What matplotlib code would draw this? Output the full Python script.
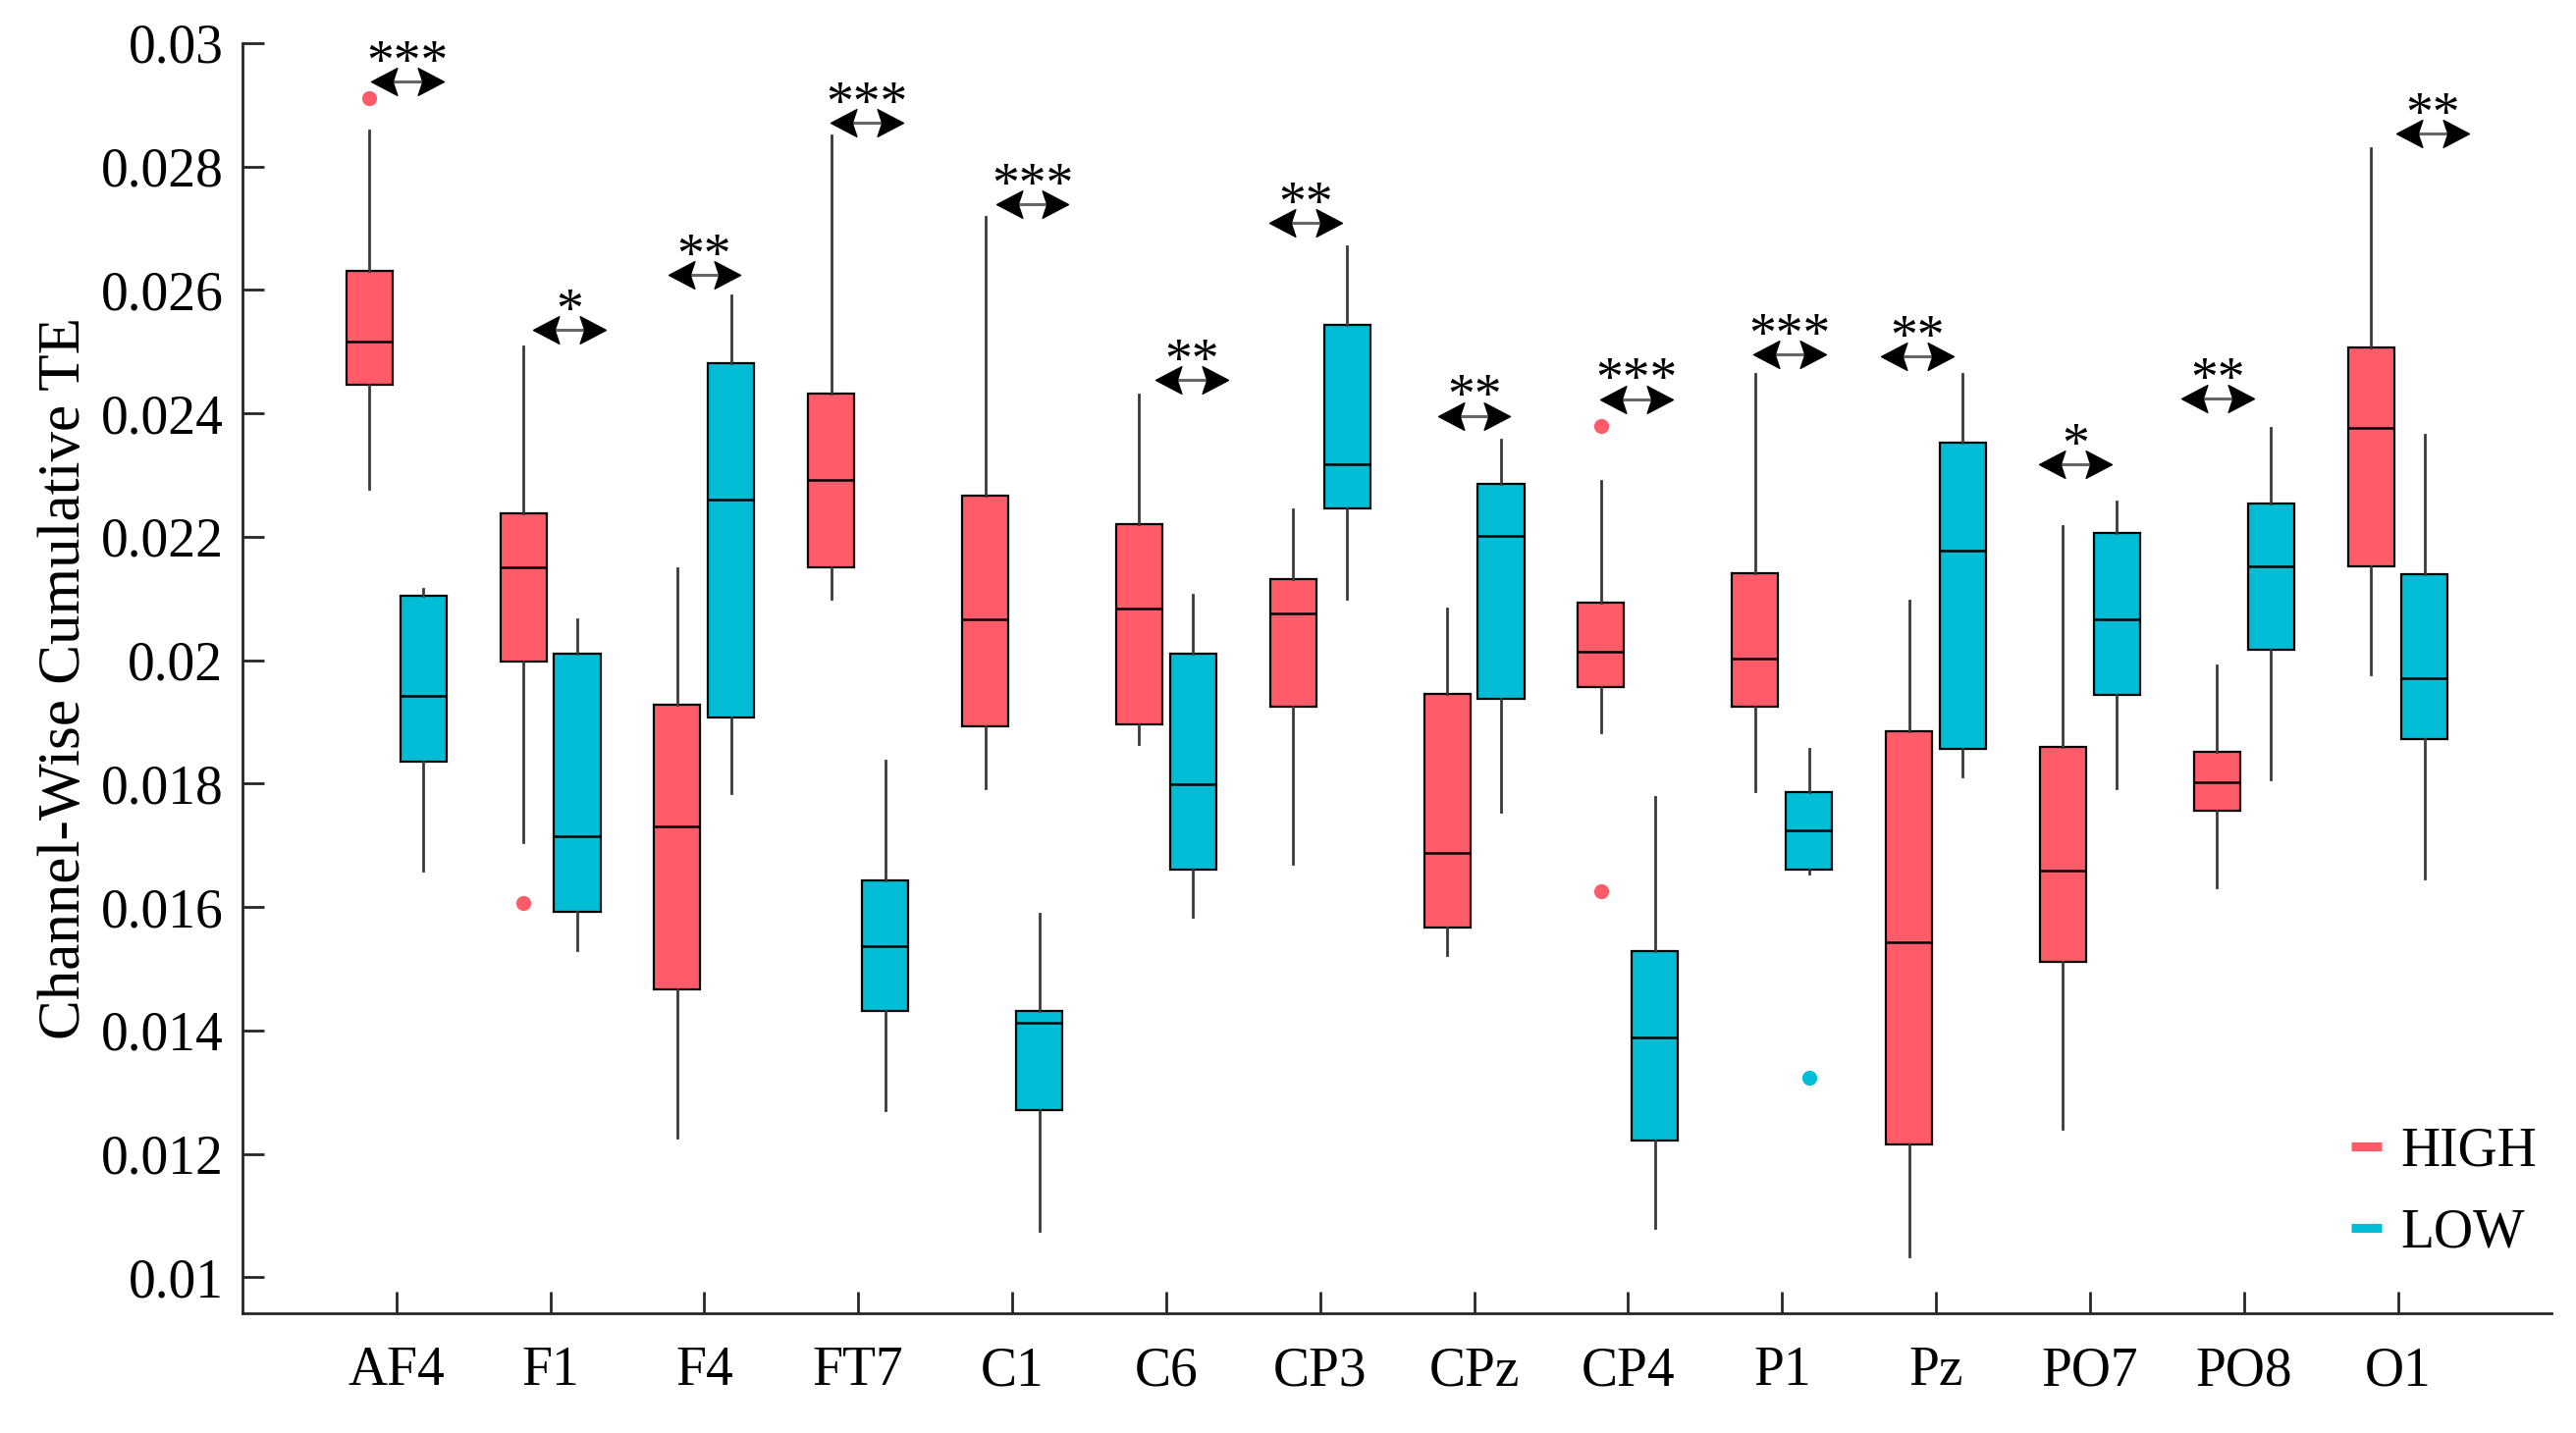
import matplotlib
matplotlib.use("Agg")
import matplotlib.pyplot as plt
from matplotlib import font_manager
from matplotlib.lines import Line2D
from matplotlib.path import Path

names = {f.name for f in font_manager.fontManager.ttflist}
serif_pick = None
for cand in ['Liberation Serif', 'Times New Roman', 'Nimbus Roman', 'DejaVu Serif']:
    if cand in names:
        serif_pick = cand
        break
plt.rcParams['font.family'] = [serif_pick or 'serif', 'DejaVu Serif']

channels = ['AF4', 'F1', 'F4', 'FT7', 'C1', 'C6', 'CP3', 'CPz', 'CP4', 'P1', 'Pz', 'PO7', 'PO8', 'O1']

high_lo  = [0.02278, 0.01706, 0.01227, 0.02100, 0.01793, 0.01865, 0.01671, 0.01523, 0.01884, 0.01788, 0.01034, 0.01241, 0.01632, 0.01977]
high_q1  = [0.02446, 0.01998, 0.01466, 0.02150, 0.01893, 0.01896, 0.01925, 0.01567, 0.01956, 0.01925, 0.01215, 0.01511, 0.01756, 0.02152]
high_med = [0.02517, 0.02150, 0.01730, 0.02292, 0.02066, 0.02084, 0.02075, 0.01688, 0.02013, 0.02002, 0.01543, 0.01659, 0.01802, 0.02377]
high_q3  = [0.02630, 0.02238, 0.01928, 0.02432, 0.02267, 0.02221, 0.02132, 0.01946, 0.02093, 0.02141, 0.01885, 0.01860, 0.01851, 0.02506]
high_hi  = [0.02858, 0.02509, 0.02149, 0.02850, 0.02719, 0.02430, 0.02244, 0.02084, 0.02291, 0.02463, 0.02097, 0.02218, 0.01992, 0.02830]
high_out = [[0.02910], [0.01607], [], [], [], [], [], [], [0.02380, 0.01626], [], [], [], [], []]

low_lo  = [0.01659, 0.01530, 0.01785, 0.01271, 0.01075, 0.01585, 0.02100, 0.01755, 0.01080, 0.01654, 0.01811, 0.01792, 0.01807, 0.01647]
low_q1  = [0.01836, 0.01592, 0.01907, 0.01432, 0.01271, 0.01660, 0.02246, 0.01937, 0.01222, 0.01660, 0.01856, 0.01943, 0.02017, 0.01872]
low_med = [0.01942, 0.01715, 0.02260, 0.01537, 0.01412, 0.01799, 0.02318, 0.02202, 0.01389, 0.01724, 0.02177, 0.02067, 0.02152, 0.01971]
low_q3  = [0.02104, 0.02011, 0.02482, 0.01644, 0.01432, 0.02011, 0.02544, 0.02285, 0.01529, 0.01786, 0.02352, 0.02206, 0.02254, 0.02140]
low_hi  = [0.02115, 0.02066, 0.02591, 0.01838, 0.01589, 0.02106, 0.02670, 0.02358, 0.01779, 0.01856, 0.02463, 0.02257, 0.02377, 0.02365]
low_out = [[], [], [], [], [], [], [], [], [], [0.01323], [], [], [], []]

sig_labels = ['***', '*', '**', '***', '***', '**', '**', '**', '***', '***', '**', '*', '**', '**']
sig_y      = [0.02938, 0.02535, 0.02624, 0.02871, 0.02739, 0.02454, 0.02708, 0.02396, 0.02423, 0.02495, 0.02492, 0.02318, 0.02424, 0.02853]
sig_xoff   = [0.07, 0.125, 0.0, 0.055, 0.13, 0.165, -0.095, 0.0, 0.055, 0.05, -0.12, -0.095, -0.17, 0.225]

C_HIGH = '#FF5B69'
C_LOW = '#00BCD4'

fig = plt.figure(figsize=(13.12, 7.3), dpi=200)
ax = fig.add_axes([0.0941, 0.0836, 0.8965, 0.8864])

def stats(lo, q1, med, q3, hi, out, name):
    return [dict(whislo=a, q1=b, med=c, q3=d, whishi=e, fliers=f, label=n)
            for a, b, c, d, e, f, n in zip(lo, q1, med, q3, hi, out, name)]

pos = list(range(1, len(channels) + 1))
common = dict(widths=0.3, patch_artist=True, showcaps=False, manage_ticks=False,
              medianprops=dict(color='black', lw=0.9),
              whiskerprops=dict(color='#3a3a3a', lw=1.0))

ax.bxp(stats(high_lo, high_q1, high_med, high_q3, high_hi, high_out, channels),
       positions=[p - 0.175 for p in pos],
       boxprops=dict(facecolor=C_HIGH, edgecolor='black', lw=0.8),
       flierprops=dict(marker='o', markerfacecolor=C_HIGH, markeredgecolor='none', markersize=5.5),
       **common)
ax.bxp(stats(low_lo, low_q1, low_med, low_q3, low_hi, low_out, channels),
       positions=[p + 0.175 for p in pos],
       boxprops=dict(facecolor=C_LOW, edgecolor='black', lw=0.8),
       flierprops=dict(marker='o', markerfacecolor=C_LOW, markeredgecolor='none', markersize=5.5),
       **common)

# notched arrow heads (tip at the marker origin)
head_left = Path([(0, 0), (2, 1.05), (1.65, 0), (2, -1.05), (0, 0)],
                 [Path.MOVETO, Path.LINETO, Path.LINETO, Path.LINETO, Path.CLOSEPOLY])
head_right = Path([(0, 0), (-2, 1.05), (-1.65, 0), (-2, -1.05), (0, 0)],
                  [Path.MOVETO, Path.LINETO, Path.LINETO, Path.LINETO, Path.CLOSEPOLY])

for p, lab, y, off in zip(pos, sig_labels, sig_y, sig_xoff):
    xc = p + off
    x0, x1 = xc - 0.235, xc + 0.235
    ax.plot([x0 + 0.05, x1 - 0.05], [y, y], color='#666666', lw=1.1, solid_capstyle='butt')
    ax.plot([x0], [y], marker=head_left, markersize=19, color='black', markeredgewidth=0.5, linestyle='none')
    ax.plot([x1], [y], marker=head_right, markersize=19, color='black', markeredgewidth=0.5, linestyle='none')
    ax.text(xc, y + 0.00005, lab, ha='center', va='baseline', fontsize=20, color='black')

ax.set_xlim(0, 15)
ax.set_ylim(0.00942, 0.03)
ax.set_xticks(pos)
ax.set_xticklabels(channels)
ax.set_yticks([0.01, 0.012, 0.014, 0.016, 0.018, 0.02, 0.022, 0.024, 0.026, 0.028, 0.03])
ax.set_yticklabels(['0.01', '0.012', '0.014', '0.016', '0.018', '0.02', '0.022', '0.024', '0.026', '0.028', '0.03'])
ax.tick_params(axis='both', direction='in', length=8, width=1.0, labelsize=20, color='#262626')
ax.tick_params(axis='x', pad=12)
ax.tick_params(axis='y', pad=7)
for s in ['top', 'right']:
    ax.spines[s].set_visible(False)
for s in ['left', 'bottom']:
    ax.spines[s].set_color('#262626')
    ax.spines[s].set_linewidth(1.0)
ax.set_ylabel('Channel-Wise Cumulative TE', fontsize=22, labelpad=3)

handles = [Line2D([0], [0], color=C_HIGH, lw=3.3, solid_capstyle='butt'),
           Line2D([0], [0], color=C_LOW, lw=3.3, solid_capstyle='butt')]
ax.legend(handles, ['HIGH', 'LOW'], loc='lower right', bbox_to_anchor=(1.003, 0.026),
          frameon=False, fontsize=20, handlelength=0.55, handletextpad=0.35,
          labelspacing=0.55, borderaxespad=0)

fig.savefig('out.png', dpi=200)
